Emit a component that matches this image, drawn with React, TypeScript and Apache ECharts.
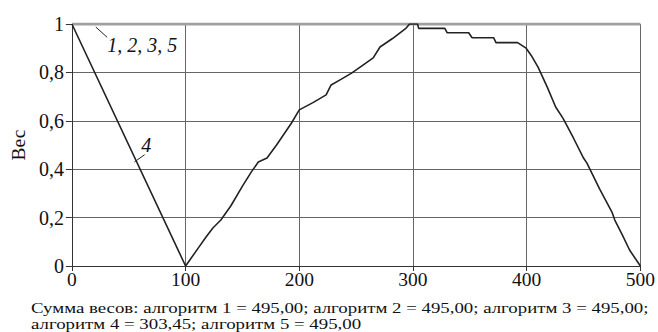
import React, { useEffect, useRef } from "react";
import * as echarts from "echarts";

const xTicks = [0, 100, 200, 300, 400, 500];
const yTicks = [0, 0.2, 0.4, 0.6, 0.8, 1];

// algorithms 1, 2, 3, 5: weight stays at 1
const series1235: [number, number][] = [
  [0, 1],
  [500, 1],
];

// algorithm 4
const series4: [number, number][] = [
  [0, 1], [100, 0], [112, 0.08], [118, 0.12], [124, 0.157], [131, 0.19], [140, 0.25],
  [150, 0.33], [158, 0.39], [164, 0.43], [171.6, 0.446], [180, 0.5], [193, 0.59],
  [200, 0.645], [212, 0.675], [223.6, 0.707], [228, 0.748], [237, 0.772], [246, 0.797],
  [256, 0.83], [265, 0.86], [271, 0.905], [282, 0.94], [294, 0.983], [297, 1],
  [304, 1], [305, 0.982], [328, 0.982], [330, 0.964], [349, 0.964], [352, 0.943],
  [371, 0.943], [373, 0.923], [392, 0.923], [399.5, 0.9], [404, 0.87], [410, 0.822],
  [418, 0.74], [425.5, 0.657], [432, 0.61], [441, 0.53], [450, 0.446], [453, 0.425],
  [464, 0.32], [475, 0.223], [477.5, 0.19], [484, 0.13], [490.5, 0.066], [500, 0],
];

const captionLines = [
  "Сумма весов: алгоритм 1 = 495,00; алгоритм 2 = 495,00; алгоритм 3 = 495,00;",
  "алгоритм 4 = 303,45; алгоритм 5 = 495,00",
];

const FONT = "Liberation Serif";

export default function App() {
  const ref = useRef<HTMLDivElement>(null);
  useEffect(() => {
    if (!ref.current) return;
    const chart = echarts.init(ref.current, null, { renderer: "svg" });
    const option: any = {
      animation: false,
      backgroundColor: "#fff",
      textStyle: { fontFamily: FONT },
      grid: { left: 64, right: 17, top: 24, bottom: 66 },
      xAxis: {
        type: "value",
        min: xTicks[0],
        max: xTicks[xTicks.length - 1],
        interval: 100,
        axisLine: { show: true, lineStyle: { color: "#333", width: 1 } },
        axisTick: { show: true, length: 5, lineStyle: { color: "#333" } },
        axisLabel: { fontFamily: FONT, fontSize: 19.5, color: "#111", margin: 3 },
        splitLine: { show: true, lineStyle: { color: "#666", width: 1 } },
      },
      yAxis: {
        type: "value",
        min: yTicks[0],
        max: yTicks[yTicks.length - 1],
        interval: 0.2,
        name: "Вес",
        nameLocation: "middle",
        nameGap: 41,
        nameRotate: 90,
        nameTextStyle: { fontFamily: FONT, fontSize: 19.5, color: "#111" },
        axisLine: { show: true, lineStyle: { color: "#333", width: 1 } },
        axisTick: { show: true, length: 6, lineStyle: { color: "#333" } },
        axisLabel: {
          fontFamily: FONT,
          fontSize: 20,
          color: "#111",
          margin: 8,
          formatter: (v: number) => String(Math.round(v * 10) / 10).replace(".", ","),
        },
        splitLine: { show: true, lineStyle: { color: "#666", width: 1 } },
      },
      series: [
        {
          type: "line",
          data: series1235,
          showSymbol: false,
          lineStyle: { color: "#a0a0a0", width: 3 },
          z: 3,
        },
        {
          type: "line",
          data: series4,
          showSymbol: false,
          lineStyle: { color: "#222", width: 1.6 },
          z: 4,
        },
      ],
    };
    chart.setOption(option);

    const p = (x: number, y: number) => chart.convertToPixel({ gridIndex: 0 }, [x, y]) as number[];
    const a1 = p(21, 1);
    const a2 = p(31, 0.945);
    const t1 = p(31, 0.913);
    const b1 = p(55, 0.43);
    const b2 = p(64, 0.46);
    const t2 = p(61, 0.5);

    chart.setOption({
      graphic: [
        {
          type: "line",
          shape: { x1: a1[0], y1: a1[1] + 3, x2: a2[0], y2: a2[1] },
          style: { stroke: "#222", lineWidth: 1 },
        },
        {
          type: "text",
          x: t1[0],
          y: t1[1],
          style: {
            text: "1, 2, 3, 5",
            fontFamily: FONT,
            fontSize: 20,
            fontStyle: "italic",
            fill: "#111",
            verticalAlign: "middle",
          },
        },
        {
          type: "line",
          shape: { x1: b1[0], y1: b1[1], x2: b2[0], y2: b2[1] },
          style: { stroke: "#222", lineWidth: 1 },
        },
        {
          type: "text",
          x: t2[0],
          y: t2[1],
          style: {
            text: "4",
            fontFamily: FONT,
            fontSize: 20,
            fontStyle: "italic",
            fill: "#111",
            verticalAlign: "middle",
          },
        },
        ...captionLines.map((line, i) => ({
          type: "text",
          x: 31,
          y: 308.5 + i * 15.5,
          scaleX: 1.215,
          style: {
            text: line,
            fontFamily: FONT,
            fontSize: 15.5,
            fill: "#111",
            verticalAlign: "middle",
          },
        })),
      ],
    });
    return () => chart.dispose();
  }, []);
  return (
    <div
      ref={ref}
      style={{ position: "absolute", left: 0, top: 0, width: 658, height: 332 }}
    />
  );
}
